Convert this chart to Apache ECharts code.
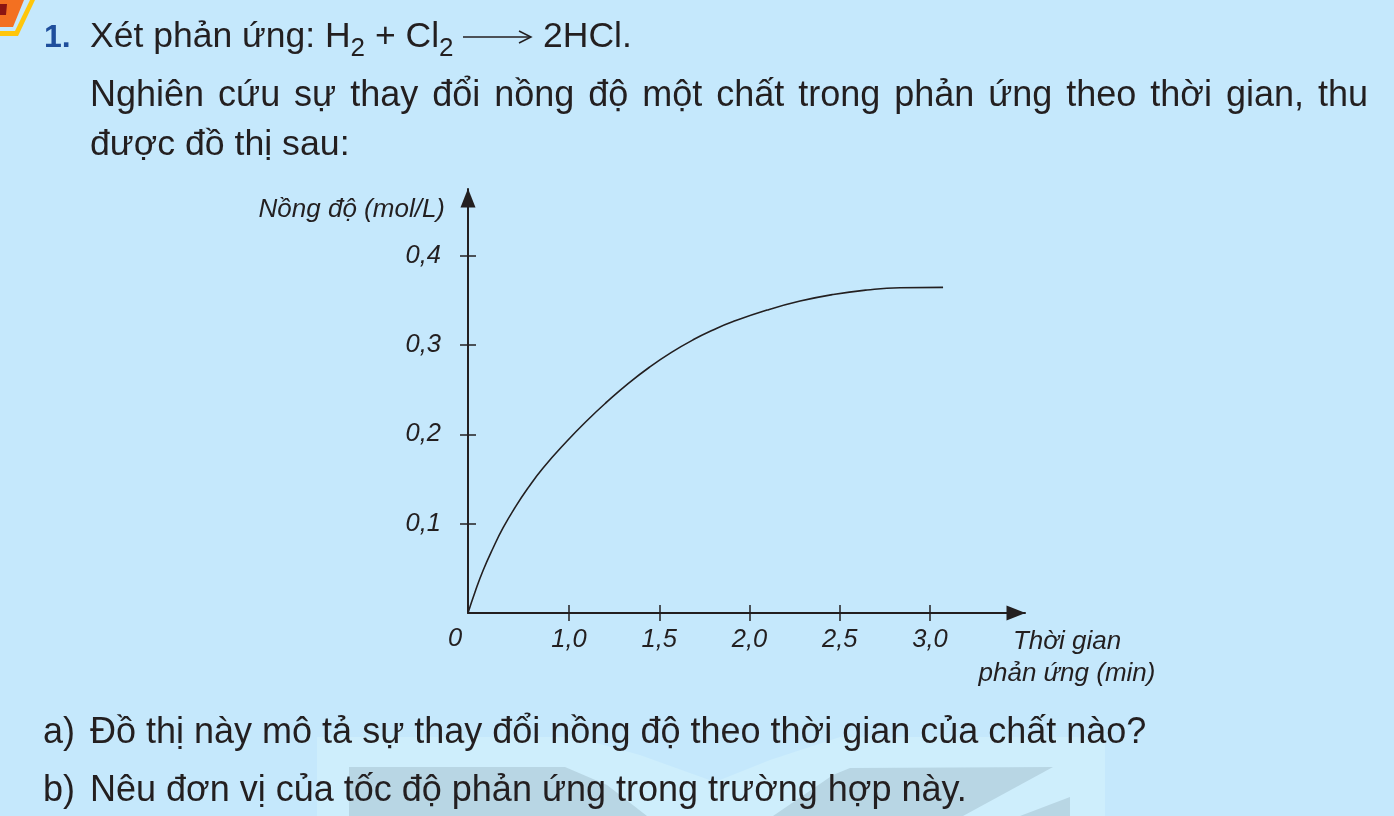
<!DOCTYPE html>
<html>
<head>
<meta charset="utf-8">
<title>Nồng độ theo thời gian</title>
<script src="https://cdn.jsdelivr.net/npm/echarts@6/dist/echarts.min.js"></script>
<style>
  html, body { margin: 0; padding: 0; background: #c5e8fc; }
  #page { position: relative; width: 1394px; height: 816px; overflow: hidden; }
  #chart { position: absolute; left: 0; top: 0; width: 1394px; height: 816px; }
  .line {
    position: absolute; white-space: nowrap; color: #231f20;
    font-family: "Liberation Sans", Arial, sans-serif; font-size: 36px; line-height: 44px;
  }
  .line b { color: #1f4e9c; font-weight: bold; font-size: 32px; }
  .line sub { font-size: 26px; line-height: 0; vertical-align: -9px; }
  .just { width: 1278px; white-space: normal; text-align: justify; text-align-last: justify; }
</style>
</head>
<body>
<div id="page">
  <div id="chart"></div>
  <div class="line" style="left:44px;top:13px"><b>1.</b></div>
  <div class="line" style="left:90px;top:13px;font-size:35.5px">Xét phản ứng: H<sub>2</sub> + Cl<sub>2</sub></div>
  <div class="line" style="left:543px;top:13px;font-size:35.5px">2HCl.</div>
  <div class="line just" style="left:90px;top:72px">Nghiên cứu sự thay đổi nồng độ một chất trong phản ứng theo thời gian, thu</div>
  <div class="line" style="left:90px;top:121px;font-size:35.7px">được đồ thị sau:</div>
  <div class="line" style="left:43px;top:709px">a)</div>
  <div class="line" style="left:90px;top:709px">Đồ thị này mô tả sự thay đổi nồng độ theo thời gian của chất nào?</div>
  <div class="line" style="left:43px;top:767px">b)</div>
  <div class="line" style="left:90px;top:767px">Nêu đơn vị của tốc độ phản ứng trong trường hợp này.</div>
</div>

<script>
// số liệu đọc từ đồ thị (trục thời gian: gốc "0" nằm ở 0.44 vì đoạn 0 - 1,0 bị rút ngắn)
const timeValues = [0.44, 0.479, 0.5235, 0.579, 0.634, 0.701, 0.773, 0.856, 0.989, 1.10, 1.211, 1.327,
  1.449, 1.565, 1.687, 1.798, 1.909, 2.097, 2.28, 2.463, 2.651, 2.834, 3.072];
const concValues = [0, 0.0235, 0.0476, 0.0728, 0.0952, 0.1183, 0.1401, 0.1624, 0.1926, 0.2156, 0.2366, 0.2569,
  0.2758, 0.2916, 0.3059, 0.3169, 0.3263, 0.3392, 0.3493, 0.3567, 0.3617, 0.3642, 0.3646];
const xTicks = [1, 1.5, 2, 2.5, 3];
const yTicks = [0.1, 0.2, 0.3, 0.4];
const xMin = 0.44;
const xMax = 3.526;
const yMax = 0.4748;

const ink = '#231f20';
const labelFont = { color: ink, fontFamily: '"Liberation Sans", Arial, sans-serif', fontStyle: 'italic', fontSize: 25.5 };
const nameFont = { ...labelFont, fontSize: 26 };
const comma = v => v.toFixed(1).replace('.', ',');

const myChart = echarts.init(document.getElementById('chart'));

const option = {
  backgroundColor: 'transparent',
  animation: false,
  grid: { left: 468, top: 189, width: 557, height: 424 },
  xAxis: [
    {
      type: 'value', position: 'bottom', min: xMin, max: xMax,
      name: 'Thời gian\nphản ứng (min)',
      nameLocation: 'end', nameGap: 42,
      nameTextStyle: { ...nameFont, align: 'center', verticalAlign: 'top', lineHeight: 32, padding: [13, 0, 0, 0] },
      splitLine: { show: false },
      axisLine: {
        onZero: false,
        lineStyle: { color: ink, width: 2 },
        symbol: ['none', 'triangle'], symbolSize: [15, 19], symbolOffset: [0, -9]
      },
      axisTick: { customValues: xTicks, length: 8, lineStyle: { color: ink, width: 1.5 } },
      axisLabel: { customValues: xTicks, margin: 14, formatter: comma, ...labelFont }
    },
    {
      // trục phụ chỉ để vạch chia cắt qua trục
      type: 'value', position: 'bottom', min: xMin, max: xMax,
      splitLine: { show: false },
      axisLine: { show: false },
      axisTick: { inside: true, customValues: xTicks, length: 8, lineStyle: { color: ink, width: 1.5 } },
      axisLabel: { show: false }
    }
  ],
  yAxis: [
    {
      type: 'value', position: 'left', min: 0, max: yMax,
      name: 'Nồng độ (mol/L)',
      nameLocation: 'end', nameGap: -8,
      nameTextStyle: { ...nameFont, align: 'right', verticalAlign: 'top', padding: [0, 23, 0, 0] },
      splitLine: { show: false },
      axisLine: {
        onZero: false,
        lineStyle: { color: ink, width: 2 },
        symbol: ['none', 'triangle'], symbolSize: [15, 19], symbolOffset: [0, -9]
      },
      axisTick: { customValues: yTicks, length: 8, lineStyle: { color: ink, width: 1.5 } },
      axisLabel: { customValues: yTicks, margin: 27, formatter: comma, padding: [2, 0, 0, 0], ...labelFont }
    },
    {
      type: 'value', position: 'left', min: 0, max: yMax,
      splitLine: { show: false },
      axisLine: { show: false },
      axisTick: { inside: true, customValues: yTicks, length: 8, lineStyle: { color: ink, width: 1.5 } },
      axisLabel: { show: false }
    }
  ],
  series: [
    {
      name: 'Nồng độ',
      type: 'line',
      xAxisIndex: 0,
      yAxisIndex: 0,
      data: timeValues.map((t, i) => [t, concValues[i]]),
      smooth: 0.5,
      showSymbol: false,
      lineStyle: { color: ink, width: 1.6 }
    }
  ],
  graphic: [
    // nền mờ phía dưới trang
    { type: 'polygon', z: -5, shape: { points: [[317, 737], [575, 737], [640, 755], [715, 782], [770, 760], [840, 737], [1105, 737], [1105, 816], [317, 816]] }, style: { fill: '#ceeefc' } },
    { type: 'polygon', z: -4, shape: { points: [[349, 767], [565, 767], [607, 785], [647, 816], [349, 816]] }, style: { fill: '#b8d6e4' } },
    { type: 'polygon', z: -4, shape: { points: [[773, 816], [833, 775], [850, 768], [1053, 767], [963, 816]] }, style: { fill: '#b8d6e4' } },
    { type: 'polygon', z: -4, shape: { points: [[1070, 797], [1070, 816], [1020, 816]] }, style: { fill: '#b8d6e4' } },
    // huy hiệu góc trái
    { type: 'polygon', shape: { points: [[0, 0], [35, 0], [18, 36], [0, 36]] }, style: { fill: '#ffc60b' } },
    { type: 'polygon', shape: { points: [[0, 0], [30, 0], [15, 31], [0, 31]] }, style: { fill: '#c5e8fc' } },
    { type: 'polygon', shape: { points: [[0, 0], [24, 0], [13, 27], [0, 27]] }, style: { fill: '#f37021' } },
    { type: 'polygon', shape: { points: [[0, 4], [7, 4], [6, 15], [0, 15]] }, style: { fill: '#8b1512' } },
    // mũi tên phản ứng
    { type: 'line', shape: { x1: 463, y1: 37, x2: 530, y2: 37 }, style: { stroke: ink, lineWidth: 1.5 } },
    { type: 'polyline', shape: { points: [[519, 31], [531, 37], [519, 43]] }, style: { stroke: ink, lineWidth: 1.5, fill: null } },
    // nhãn gốc tọa độ
    { type: 'text', x: 455, y: 639, style: { text: '0', align: 'center', verticalAlign: 'middle', fill: ink, font: 'italic 25.5px "Liberation Sans", Arial, sans-serif' } }
  ]
};

myChart.setOption(option);

window.addEventListener('resize', () => {
  myChart.resize();
});
</script>
</body>
</html>
